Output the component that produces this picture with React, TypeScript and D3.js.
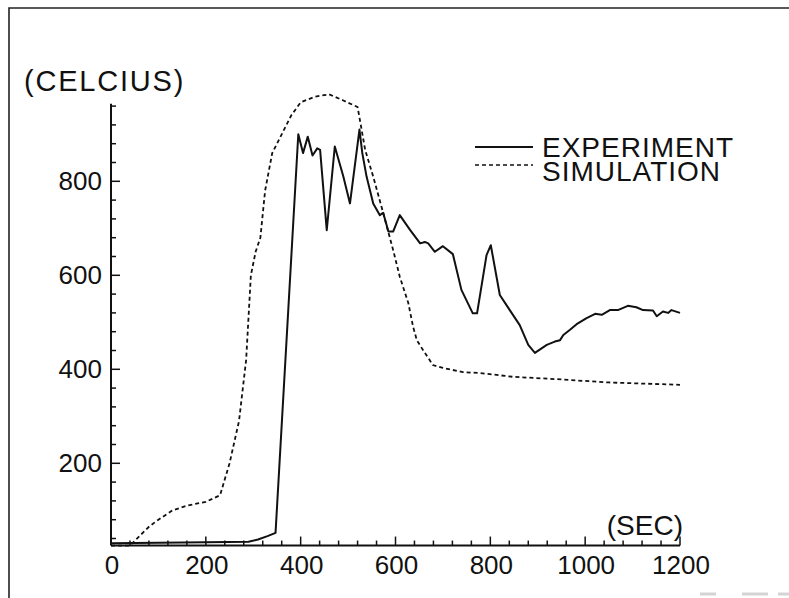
import React, { useEffect, useRef } from 'react';
import * as d3 from 'd3';

// experiment (solid), seconds / celcius
const expTime = [0, 100, 200, 290, 310, 330, 347, 395, 405, 415, 425, 435, 441, 455, 472, 490, 504, 524, 530, 539, 553, 567, 574, 585, 595, 609, 631, 652, 662, 669, 683, 700, 721, 739, 763, 772, 792, 801, 820, 841, 862, 880, 894, 919, 936, 947, 954, 968, 982, 1003, 1021, 1035, 1052, 1069, 1090, 1108, 1122, 1143, 1151, 1164, 1175, 1182, 1200];
const expTemp = [30, 31, 32, 33, 38, 45, 52, 900, 860, 895, 855, 870, 867, 696, 874, 810, 753, 910, 860, 810, 753, 728, 733, 693, 693, 728, 696, 668, 671, 668, 650, 662, 645, 569, 519, 519, 643, 664, 558, 526, 494, 452, 435, 452, 459, 462, 473, 484, 496, 509, 518, 516, 526, 526, 535, 532, 526, 525, 513, 523, 520, 526, 520];

// simulation (dashed)
const simTime = [0, 40, 60, 80, 100, 130, 160, 200, 230, 250, 270, 285, 295, 305, 315, 325, 340, 360, 380, 400, 430, 460, 490, 520, 525, 536, 553, 574, 595, 609, 627, 637, 645, 658, 679, 700, 742, 778, 848, 940, 1050, 1200];
const simTemp = [25, 25, 45, 65, 80, 100, 110, 118, 132, 200, 290, 420, 600, 650, 680, 780, 860, 900, 940, 968, 980, 985, 972, 958, 930, 867, 810, 733, 654, 597, 541, 491, 462, 441, 409, 403, 394, 392, 384, 379, 372, 367];

const xTickLabels = [0, 200, 400, 600, 800, 1000, 1200];
const yTickLabels = [200, 400, 600, 800];
const legendLabels = ['EXPERIMENT', 'SIMULATION'];

const FONT = "'Liberation Sans', Arial, sans-serif";

const App = () => {
  const svgRef = useRef(null);

  useEffect(() => {
    const svg = d3.select(svgRef.current);
    svg.selectAll('*').remove();

    const x = d3.scaleLinear().domain([0, 1200]).range([111, 680]);
    const y = d3.scaleLinear().domain([0, 960]).range([557.3, 106.1]);
    const yBase = y(25);

    // frame of the scanned page
    svg.append('path')
      .attr('d', 'M9,598 L9,8 L789,8')
      .attr('fill', 'none')
      .attr('stroke', '#222')
      .attr('stroke-width', 1.6);

    // faint scan marks bottom right
    [[700, 716], [742, 768], [778, 789]].forEach(([a, b]) => {
      svg.append('line')
        .attr('x1', a).attr('x2', b)
        .attr('y1', 594).attr('y2', 594)
        .attr('stroke', '#d4d4d4')
        .attr('stroke-width', 3);
    });

    // y axis
    svg.append('line')
      .attr('x1', x(0)).attr('x2', x(0))
      .attr('y1', yBase).attr('y2', y(965))
      .attr('stroke', '#111').attr('stroke-width', 2);

    const yMinor = d3.range(40, 961, 40);
    svg.append('g').selectAll('line')
      .data(yMinor)
      .enter()
      .append('line')
      .attr('x1', x(0))
      .attr('x2', (d) => x(0) + (d % 200 === 0 ? 9 : 5))
      .attr('y1', (d) => y(d))
      .attr('y2', (d) => y(d))
      .attr('stroke', '#111')
      .attr('stroke-width', 1.5);

    svg.append('g').selectAll('text')
      .data(yTickLabels)
      .enter()
      .append('text')
      .attr('x', 102)
      .attr('y', (d) => y(d) + 9)
      .attr('text-anchor', 'end')
      .attr('font-family', FONT)
      .attr('font-size', 26)
      .attr('fill', '#111')
      .text((d) => d);

    // x axis
    svg.append('line')
      .attr('x1', x(0)).attr('x2', x(1200))
      .attr('y1', yBase).attr('y2', yBase)
      .attr('stroke', '#111').attr('stroke-width', 2);

    const xMinor = d3.range(40, 1201, 40);
    svg.append('g').selectAll('line')
      .data(xMinor)
      .enter()
      .append('line')
      .attr('x1', (d) => x(d))
      .attr('x2', (d) => x(d))
      .attr('y1', yBase)
      .attr('y2', (d) => yBase - (d % 200 === 0 ? 9 : 5))
      .attr('stroke', '#111')
      .attr('stroke-width', 1.5);

    svg.append('g').selectAll('text')
      .data(xTickLabels)
      .enter()
      .append('text')
      .attr('x', (d) => x(d) + 1)
      .attr('y', 574)
      .attr('text-anchor', 'middle')
      .attr('font-family', FONT)
      .attr('font-size', 26)
      .attr('fill', '#111')
      .text((d) => d);

    // axis titles
    svg.append('text')
      .attr('x', 24).attr('y', 91)
      .attr('font-family', FONT).attr('font-size', 29).attr('fill', '#111')
      .attr('letter-spacing', 1.8)
      .text('(CELCIUS)');
    svg.append('text')
      .attr('x', 683).attr('y', 535)
      .attr('text-anchor', 'end')
      .attr('font-family', FONT).attr('font-size', 28).attr('fill', '#111')
      .text('(SEC)');

    // curves
    const line = d3.line().x((d) => x(d[0])).y((d) => y(d[1]));
    const simPts = simTime.map((t, i) => [t, simTemp[i]]);
    const expPts = expTime.map((t, i) => [t, expTemp[i]]);

    svg.append('path')
      .datum(simPts)
      .attr('d', line)
      .attr('fill', 'none')
      .attr('stroke', '#111')
      .attr('stroke-width', 1.8)
      .attr('stroke-dasharray', '4,3');

    svg.append('path')
      .datum(expPts)
      .attr('d', line)
      .attr('fill', 'none')
      .attr('stroke', '#111')
      .attr('stroke-width', 2)
      .attr('stroke-linejoin', 'round');

    // legend
    const legend = svg.append('g');
    legendLabels.forEach((label, i) => {
      const ly = 147 + i * 18;
      legend.append('line')
        .attr('x1', 475).attr('x2', 533)
        .attr('y1', ly).attr('y2', ly)
        .attr('stroke', '#111')
        .attr('stroke-width', i === 0 ? 1.8 : 1.6)
        .attr('stroke-dasharray', i === 0 ? null : '4,3');
      legend.append('text')
        .attr('x', 542).attr('y', 157 + i * 24)
        .attr('font-family', FONT).attr('font-size', 28).attr('fill', '#111')
        .attr('letter-spacing', 1)
        .text(label);
    });
  }, []);

  return (
    <svg
      ref={svgRef}
      width={789}
      height={598}
      style={{ position: 'absolute', left: 0, top: 0, background: '#fff' }}
    ></svg>
  );
};

export default App;
